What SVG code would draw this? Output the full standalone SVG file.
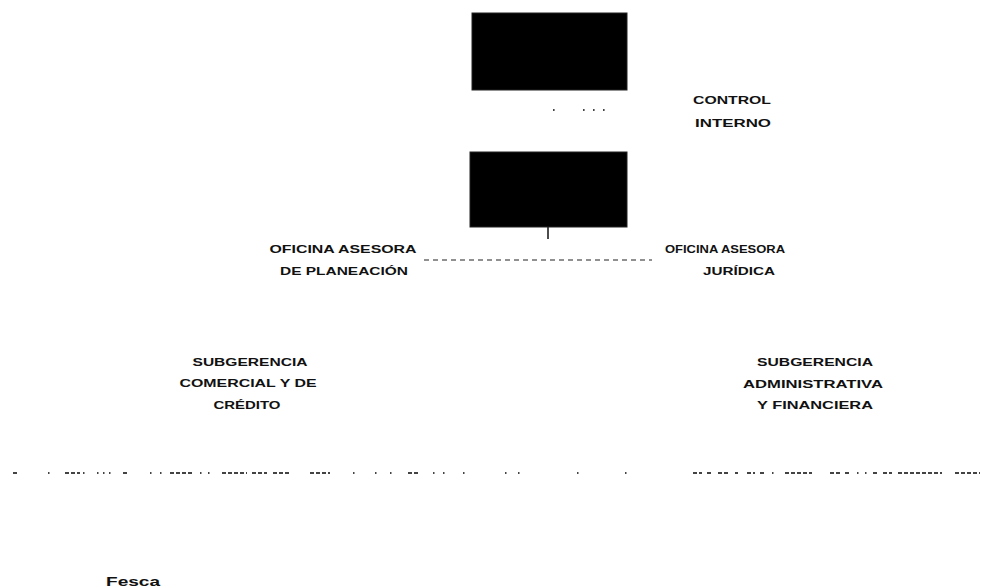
<svg xmlns="http://www.w3.org/2000/svg" width="1002" height="588" viewBox="0 0 1002 588">
<style>
.lbl{font-family:"Liberation Sans",Arial,sans-serif;font-weight:bold;font-size:11px;fill:#111;text-anchor:middle;dominant-baseline:central}
.box{fill:#000;stroke:#222;stroke-width:1}
.dash{stroke:#222;stroke-width:1.2;fill:none;stroke-dasharray:5,4}
.dots{stroke:#444;stroke-width:2;fill:none}
.brk{stroke-dasharray:4,2}
</style>
<rect width="1002" height="588" fill="#fff"/>
<g id="connectors">
<path class="dots" d="M553,110h1.6M583,110h1.6M593,110h1.6M603,110h1.6"/>
<line x1="548" y1="227" x2="548" y2="239" stroke="#111" stroke-width="1.5"/>
<path class="dash" d="M424,260H652"/>
<path class="dots brk" d="M13,473H18M48,473h1.5M65,473H80M83,473h1.5M97,473h1.5M103,473h1.5M109,473h1.5M123,473H127M150,473h1.5M160,473h1.5M170,473H193M200,473h1.5M208,473h1.5M222,473H247M252,473H267M273,473H290M310,473H330M353,473h1.5M375,473h1.5M390,473h1.5M408,473H420M433,473h1.5M443,473h1.5M463,473h1.5M505,473h1.5M518,473h1.5M577,473h1.5M625,473h1.5M693,473H702M707,473H712M718,473H730M735,473H738M747,473H755M760,473H765M772,473h1.5M785,473H812M830,473H840M845,473H850M857,473h1.5M865,473h1.5M873,473H878M883,473H892M898,473H942M955,473H980"/>
</g>
<g id="node-top"><rect class="box" x="472" y="13" width="155" height="77"/></g>
<g id="node-middle"><rect class="box" x="470" y="152" width="157" height="75"/></g>
<g id="node-control-interno">
<text class="lbl" x="732" y="100" textLength="78" lengthAdjust="spacingAndGlyphs">CONTROL</text>
<text class="lbl" x="733" y="123" textLength="76" lengthAdjust="spacingAndGlyphs">INTERNO</text>
</g>
<g id="node-planeacion">
<text class="lbl" x="343" y="249" textLength="147" lengthAdjust="spacingAndGlyphs">OFICINA ASESORA</text>
<text class="lbl" x="344" y="271" textLength="128" lengthAdjust="spacingAndGlyphs">DE PLANEACIÓN</text>
</g>
<g id="node-juridica">
<text class="lbl" x="725" y="249" textLength="120" lengthAdjust="spacingAndGlyphs">OFICINA  ASESORA</text>
<text class="lbl" x="739" y="271" textLength="72" lengthAdjust="spacingAndGlyphs">JURÍDICA</text>
</g>
<g id="node-comercial">
<text class="lbl" x="250" y="362" textLength="115" lengthAdjust="spacingAndGlyphs">SUBGERENCIA</text>
<text class="lbl" x="248" y="383" textLength="137" lengthAdjust="spacingAndGlyphs">COMERCIAL Y DE</text>
<text class="lbl" x="247" y="405" textLength="67" lengthAdjust="spacingAndGlyphs">CRÉDITO</text>
</g>
<g id="node-administrativa">
<text class="lbl" x="815" y="362" textLength="116" lengthAdjust="spacingAndGlyphs">SUBGERENCIA</text>
<text class="lbl" x="813" y="384" textLength="140" lengthAdjust="spacingAndGlyphs">ADMINISTRATIVA</text>
<text class="lbl" x="815" y="405" textLength="116" lengthAdjust="spacingAndGlyphs">Y FINANCIERA</text>
</g>
<g id="footer">
<text class="lbl" x="133" y="582" textLength="54" lengthAdjust="spacingAndGlyphs" style="font-size:12px">Fesca</text>
</g>
</svg>
